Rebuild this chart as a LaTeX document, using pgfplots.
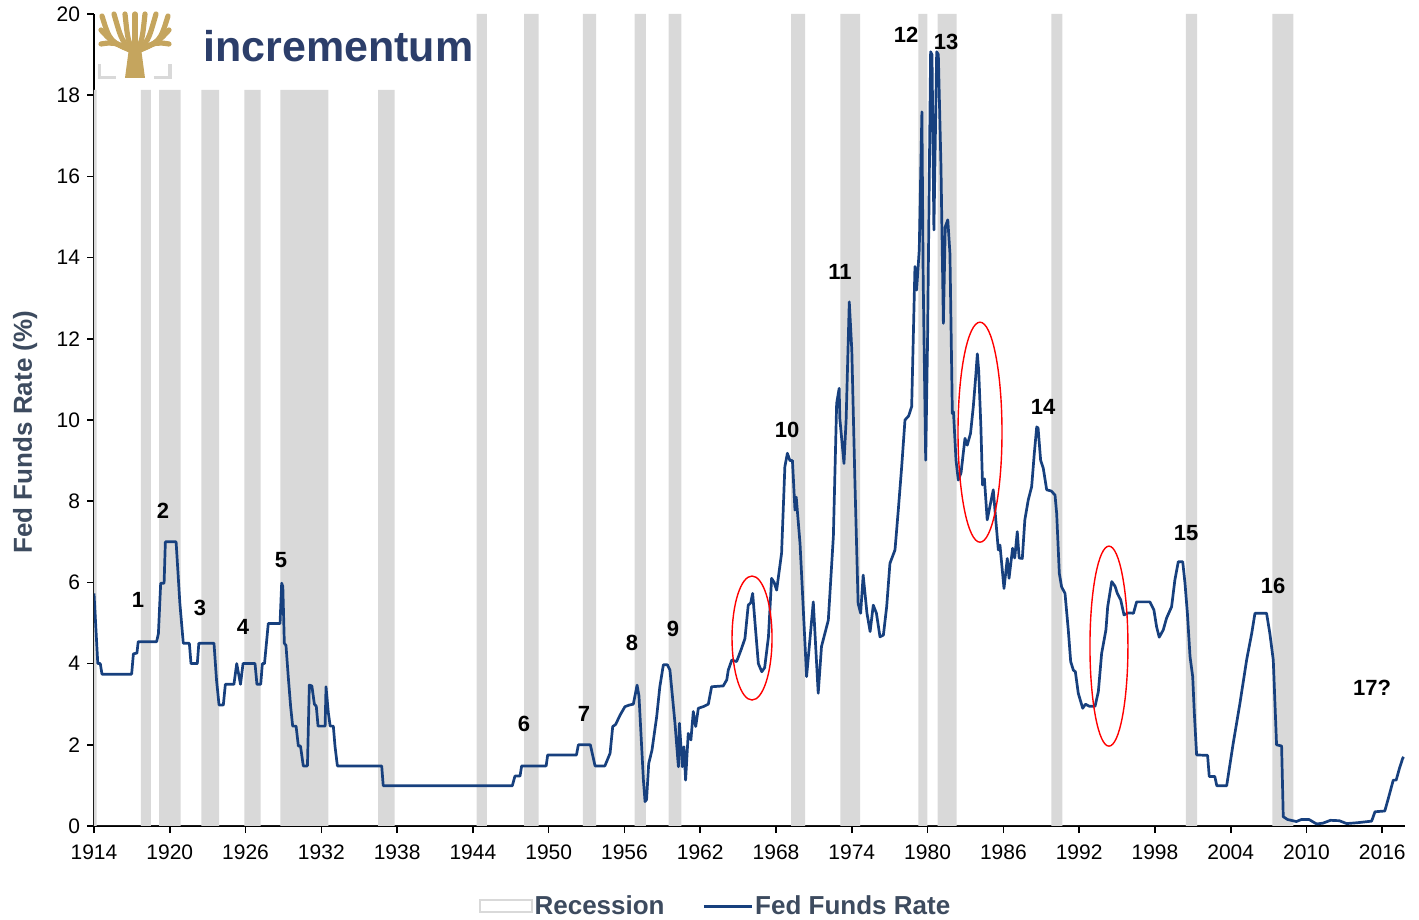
\documentclass[border=0pt]{standalone}
\usepackage{fontspec}
\setmainfont{Liberation Sans}
\usepackage{pgfplots}
\pgfplotsset{compat=1.18}
\definecolor{navy}{HTML}{17407E}
\definecolor{recg}{HTML}{D9D9D9}
\definecolor{labc}{HTML}{3D4B5F}
\definecolor{gold}{HTML}{C5A55E}
\definecolor{logob}{HTML}{2C3E6A}
\tikzset{lbl/.style={font=\fontsize{11}{13}\selectfont\bfseries,text=black}}

\begin{document}
\begin{tikzpicture}
\useasboundingbox (-47pt,-47pt) rectangle (662.5pt,413pt);
\begin{axis}[at={(0,0)},anchor=south west,scale only axis,width=655.5pt,height=406pt,
xmin=1914,xmax=2017.8,ymin=0,ymax=20,
axis lines=left,axis line style={-,line width=0.9pt},
x axis line style={-},y axis line style={-},
xtick={1914,1920,...,2016},ytick={0,2,...,20},
tick align=outside,major tick length=3.5pt,tick style={black,line width=0.8pt},
/pgf/number format/assume math mode=true,
xticklabel style={/pgf/number format/1000 sep={},yshift=-2.5pt},
tick label style={font=\fontsize{10.5}{12}\selectfont},
ylabel={Fed Funds Rate (\%)},
ylabel style={font=\fontsize{13}{15}\selectfont\bfseries,text=labc,at={(axis description cs:-0.0526,0.485)},anchor=center},
legend style={at={(axis description cs:0.474,-0.099)},anchor=center,draw=none,legend columns=2,
 inner sep=0pt,nodes={inner sep=1pt},
 font=\fontsize{13}{15}\selectfont\bfseries,text=labc,/tikz/every even column/.append style={column sep=18pt}},
]
% recession bars, early ones stop below the logo
\addplot[const plot mark left,fill=recg,draw=none,forget plot] coordinates {
(1914,18.13) (1914.2,0) (1917.72,18.13) (1918.51,0) (1919.15,18.13) (1920.86,0)
(1922.5,18.13) (1923.9,0) (1925.9,18.13) (1927.2,0) (1928.75,18.13) (1932.55,0)
(1936.5,18.13) (1937.8,0) (1944.3,20) (1945.1,0) (1948.05,20) (1949.2,0)
(1952.7,20) (1953.75,0) (1956.8,20) (1957.7,0) (1959.5,20) (1960.5,0)
(1969.2,20) (1970.3,0) (1973.1,20) (1974.65,0) (1979.27,20) (1979.98,0)
(1980.8,20) (1982.3,0) (1989.8,20) (1990.68,0) (2000.45,20) (2001.35,0)
(2007.3,20) (2008.96,0)} \closedcycle;
\addlegendimage{legend image code/.code={\draw[recg,line width=1pt,fill=white] (0pt,-3pt) rectangle (26pt,3pt);}}
\addlegendentry{Recession}
\addplot[navy,line width=1.35pt,line join=round,
 legend image code/.code={\draw[navy,line width=1.3pt] (0pt,0pt)--(24pt,0pt);}] coordinates {
(1914.0,5.73) (1914.3,4.0) (1914.5,4.0) (1914.63,3.74) (1916.98,3.74) (1917.12,4.24)
(1917.4,4.26) (1917.5,4.54) (1918.96,4.54) (1919.1,4.74) (1919.28,5.98) (1919.55,5.98)
(1919.65,7.0) (1920.5,7.0) (1920.8,5.48) (1921.07,4.5) (1921.55,4.5) (1921.68,4.0)
(1922.18,4.0) (1922.3,4.5) (1923.5,4.5) (1923.7,3.6) (1923.9,2.98) (1924.24,2.98)
(1924.4,3.49) (1925.08,3.49) (1925.3,4.0) (1925.6,3.49) (1925.8,4.0) (1926.75,4.0)
(1926.9,3.49) (1927.2,3.49) (1927.33,4.0) (1927.5,4.0) (1927.8,4.99) (1928.73,4.99)
(1928.86,5.98) (1928.95,5.9) (1929.07,4.5) (1929.2,4.45) (1929.38,3.68) (1929.57,2.94)
(1929.73,2.46) (1930.0,2.46) (1930.18,1.97) (1930.35,1.97) (1930.57,1.48) (1930.9,1.48)
(1931.05,3.47) (1931.25,3.45) (1931.45,3.0) (1931.6,2.95) (1931.74,2.46) (1932.3,2.46)
(1932.37,3.43) (1932.55,2.8) (1932.7,2.46) (1932.95,2.46) (1933.08,1.97) (1933.27,1.48)
(1936.78,1.48) (1936.9,0.99) (1947.12,0.99) (1947.33,1.23) (1947.73,1.23) (1947.86,1.48)
(1949.8,1.48) (1949.92,1.75) (1952.2,1.75) (1952.35,2.0) (1953.3,2.0) (1953.67,1.48)
(1954.45,1.48) (1954.86,1.79) (1955.07,2.45) (1955.3,2.5) (1955.65,2.73) (1956.04,2.94)
(1956.39,2.98) (1956.7,3.0) (1957.0,3.47) (1957.15,3.2) (1957.5,1.13) (1957.63,0.6)
(1957.75,0.65) (1957.92,1.54) (1958.18,1.87) (1958.55,2.69) (1958.8,3.43) (1959.08,3.97)
(1959.4,3.97) (1959.6,3.84) (1960.0,2.53) (1960.27,1.46) (1960.35,2.53) (1960.58,1.46)
(1960.71,1.95) (1960.84,1.13) (1961.05,2.28) (1961.26,2.12) (1961.45,2.82) (1961.64,2.45)
(1961.85,2.9) (1962.24,2.94) (1962.64,3.0) (1962.9,3.43) (1963.82,3.45) (1964.1,3.6)
(1964.22,3.84) (1964.5,4.09) (1964.88,4.05) (1965.28,4.38) (1965.54,4.62) (1965.8,5.44)
(1966.0,5.5) (1966.15,5.73) (1966.34,4.99) (1966.6,4.0) (1966.87,3.8) (1967.1,3.9)
(1967.4,4.66) (1967.65,6.1) (1967.85,6.0) (1968.05,5.81) (1968.44,6.72) (1968.7,8.85)
(1968.9,9.18) (1969.1,9.0) (1969.3,9.0) (1969.5,7.78) (1969.6,8.1) (1969.9,6.96)
(1970.02,6.22) (1970.42,3.68) (1970.95,5.52) (1971.34,3.27) (1971.6,4.42) (1972.14,5.07)
(1972.54,7.13) (1972.8,10.41) (1973.0,10.78) (1973.05,10.04) (1973.38,8.93) (1973.55,10.0)
(1973.8,12.91) (1974.0,11.72) (1974.25,8.44) (1974.5,5.48) (1974.7,5.24) (1974.9,6.18)
(1975.2,5.24) (1975.45,4.79) (1975.7,5.44) (1975.95,5.24) (1976.23,4.66) (1976.5,4.7)
(1976.76,5.4) (1977.02,6.47) (1977.42,6.8) (1977.68,7.78) (1977.95,8.85) (1978.21,10.0)
(1978.5,10.1) (1978.74,10.33) (1979.0,13.78) (1979.13,13.2) (1979.34,14.19) (1979.55,17.59)
(1979.65,13.5) (1979.85,9.01) (1980.0,12.0) (1980.24,19.07) (1980.35,19.0) (1980.5,14.68)
(1980.72,19.07) (1980.85,19.0) (1981.06,16.24) (1981.25,12.38) (1981.4,14.76) (1981.6,14.93)
(1981.77,14.1) (1981.96,10.16) (1982.05,10.2) (1982.25,9.01) (1982.43,8.52) (1982.65,8.7)
(1982.96,9.55) (1983.14,9.38) (1983.4,9.67) (1983.62,10.33) (1983.81,11.07) (1983.94,11.63)
(1984.05,11.2) (1984.22,9.83) (1984.35,8.4) (1984.5,8.55) (1984.72,7.54) (1985.2,8.28)
(1985.6,6.8) (1985.73,6.92) (1986.05,5.85) (1986.31,6.59) (1986.45,6.1) (1986.73,6.84)
(1986.9,6.6) (1987.1,7.25) (1987.25,6.6) (1987.5,6.59) (1987.7,7.54) (1987.97,8.03)
(1988.24,8.36) (1988.45,9.18) (1988.64,9.83) (1988.75,9.8) (1988.95,9.01) (1989.16,8.81)
(1989.43,8.28) (1989.8,8.25) (1990.09,8.15) (1990.22,7.7) (1990.43,6.22) (1990.61,5.89)
(1990.88,5.73) (1991.14,4.83) (1991.33,4.05) (1991.54,3.84) (1991.7,3.8) (1991.93,3.27)
(1992.28,2.9) (1992.5,3.0) (1992.8,2.95) (1993.26,2.95) (1993.52,3.31) (1993.78,4.25)
(1994.12,4.83) (1994.26,5.4) (1994.58,6.02) (1994.85,5.9) (1995.02,5.73) (1995.29,5.57)
(1995.55,5.2) (1995.9,5.25) (1996.3,5.24) (1996.55,5.52) (1997.34,5.52) (1997.6,5.52)
(1997.92,5.32) (1998.13,4.91) (1998.34,4.65) (1998.66,4.83) (1998.92,5.12) (1999.32,5.4)
(1999.58,6.06) (1999.85,6.51) (2000.2,6.51) (2000.38,5.98) (2000.57,5.24) (2000.78,4.17)
(2000.99,3.68) (2001.12,2.78) (2001.3,1.75) (2002.17,1.74) (2002.3,1.22) (2002.74,1.22)
(2002.9,0.99) (2003.68,0.99) (2004.2,2.04) (2004.73,3.02) (2005.26,4.09) (2005.66,4.74)
(2005.92,5.24) (2006.84,5.24) (2007.1,4.74) (2007.37,4.09) (2007.63,2.0) (2008.03,1.97)
(2008.16,0.23) (2008.5,0.16) (2009.2,0.11) (2009.6,0.16) (2010.2,0.16) (2010.8,0.05)
(2011.3,0.07) (2011.9,0.14) (2012.6,0.13) (2013.18,0.06) (2014.0,0.08) (2015.16,0.12)
(2015.42,0.35) (2016.2,0.37) (2016.48,0.68) (2016.87,1.13) (2017.1,1.13) (2017.36,1.42)
(2017.62,1.67) (2017.7,1.7)};
\addlegendentry{Fed Funds Rate}
% cycle numbers
\node[lbl] at (axis cs:1917.48,5.57) {1};
\node[lbl] at (axis cs:1919.46,7.76) {2};
\node[lbl] at (axis cs:1922.39,5.37) {3};
\node[lbl] at (axis cs:1925.8,4.9) {4};
\node[lbl] at (axis cs:1928.8,6.55) {5};
\node[lbl] at (axis cs:1948.05,2.51) {6};
\node[lbl] at (axis cs:1952.8,2.76) {7};
\node[lbl] at (axis cs:1956.6,4.51) {8};
\node[lbl] at (axis cs:1959.84,4.85) {9};
\node[lbl] at (axis cs:1968.87,9.75) {10};
\node[lbl] at (axis cs:1973.07,13.65) {11};
\node[lbl] at (axis cs:1978.3,19.48) {12};
\node[lbl] at (axis cs:1981.46,19.31) {13};
\node[lbl] at (axis cs:1989.14,10.32) {14};
\node[lbl] at (axis cs:2000.46,7.22) {15};
\node[lbl] at (axis cs:2007.35,5.91) {16};
\node[lbl] at (axis cs:2015.2,3.4) {17?};
% red ellipses
\draw[red,line width=0.7pt] (axis cs:1966.1,4.63) ellipse [x radius=10pt,y radius=31pt];
\draw[red,line width=0.7pt] (axis cs:1984.15,9.7) ellipse [x radius=11pt,y radius=55pt];
\draw[red,line width=0.7pt] (axis cs:1994.36,4.43) ellipse [x radius=9.5pt,y radius=50pt];
\end{axis}
% logo
\begin{scope}
\fill[gold] (15.5pt,374pt) -- (25.5pt,374pt) -- (23.5pt,389pt) -- (17.5pt,389pt) -- cycle;
\foreach \x/\y/\cx in {4/405/8,10/406/14,15.5/406/17,20.5/406/20.5,25.5/406/24,31/406/27,37/405/33,3.5/398/9,37.5/398/32,3.5/391/10,37.5/391/31}
  \draw[gold,line width=2.6pt,line cap=round] (20.5pt,387pt) .. controls (\cx pt,392pt) .. (\x pt,\y pt);
\draw[gray!30,line width=1.5pt] (3pt,381pt) -- (3pt,374pt) -- (11pt,374pt);
\draw[gray!30,line width=1.5pt] (30pt,374pt) -- (38pt,374pt) -- (38pt,381pt);
\node[anchor=base west,inner sep=0pt,text=logob,font=\fontsize{21.5}{22}\selectfont\bfseries] at (54.5pt,382pt) {incrementum};
\end{scope}
\end{tikzpicture}
\end{document}
